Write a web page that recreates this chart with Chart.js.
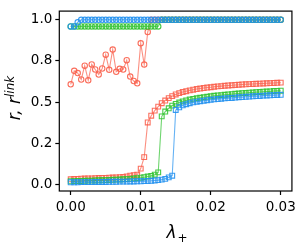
<!DOCTYPE html>
<html>
<head>
<meta charset="utf-8">
<script src="https://cdn.jsdelivr.net/npm/chart.js@4/dist/chart.umd.min.js"></script>
<style>
html,body{margin:0;padding:0;background:#fff;}
#wrap{width:300px;height:245px;}
</style>
</head>
<body>
<div id="wrap"><canvas id="c" width="300" height="245"></canvas></div>
<script>
const lambdaPlus = [0,0.0005,0.001,0.0015,0.002,0.0025,0.003,0.0035,0.004,0.0045,
  0.005,0.0055,0.006,0.0065,0.007,0.0075,0.008,0.0085,0.009,0.0095,
  0.01,0.0105,0.011,0.0115,0.012,0.0125,0.013,0.0135,0.014,0.0145,
  0.015,0.0155,0.016,0.0165,0.017,0.0175,0.018,0.0185,0.019,0.0195,
  0.02,0.0205,0.021,0.0215,0.022,0.0225,0.023,0.0235,0.024,0.0245,
  0.025,0.0255,0.026,0.0265,0.027,0.0275,0.028,0.0285,0.029,0.0295,0.03];

const rRed = [0.608,0.690,0.676,0.637,0.721,0.632,0.729,0.698,0.667,0.704,
  0.788,0.696,0.819,0.684,0.702,0.698,0.754,0.655,0.628,0.614,
  0.857,0.728,0.926,1.0,1.0,1.0,1.0,1.0,1.0,1.0,
  1.0,1.0,1.0,1.0,1.0,1.0,1.0,1.0,1.0,1.0,
  1.0,1.0,1.0,1.0,1.0,1.0,1.0,1.0,1.0,1.0,
  1.0,1.0,1.0,1.0,1.0,1.0,1.0,1.0,1.0,1.0,1.0];
const rGreen = [0.96,0.96,0.96,0.96,0.96,0.96,0.96,0.96,0.96,0.96,
  0.96,0.96,0.96,0.96,0.96,0.96,0.96,0.96,0.96,0.96,
  0.96,0.96,0.96,0.96,0.96,0.96,1.0,1.0,1.0,1.0,
  1.0,1.0,1.0,1.0,1.0,1.0,1.0,1.0,1.0,1.0,
  1.0,1.0,1.0,1.0,1.0,1.0,1.0,1.0,1.0,1.0,
  1.0,1.0,1.0,1.0,1.0,1.0,1.0,1.0,1.0,1.0,1.0];
const rBlue = [0.96,0.96,0.985,1.0,1.0,1.0,1.0,1.0,1.0,1.0,
  1.0,1.0,1.0,1.0,1.0,1.0,1.0,1.0,1.0,1.0,
  1.0,1.0,1.0,1.0,1.0,1.0,1.0,1.0,1.0,1.0,
  1.0,1.0,1.0,1.0,1.0,1.0,1.0,1.0,1.0,1.0,
  1.0,1.0,1.0,1.0,1.0,1.0,1.0,1.0,1.0,1.0,
  1.0,1.0,1.0,1.0,1.0,1.0,1.0,1.0,1.0,1.0,1.0];

const linkRed = [0.030,0.032,0.033,0.034,0.035,0.036,0.036,0.037,0.038,0.039,
  0.039,0.040,0.041,0.042,0.043,0.044,0.048,0.052,0.055,0.058,
  0.095,0.165,0.376,0.417,0.448,0.472,0.493,0.509,0.524,0.536,
  0.546,0.554,0.561,0.566,0.571,0.575,0.579,0.582,0.585,0.588,
  0.590,0.593,0.595,0.597,0.599,0.601,0.602,0.604,0.605,0.607,
  0.608,0.609,0.610,0.611,0.612,0.613,0.614,0.615,0.616,0.617,0.618];
const linkGreen = [0.018,0.019,0.020,0.020,0.021,0.022,0.022,0.023,0.024,0.024,
  0.025,0.026,0.027,0.028,0.029,0.030,0.031,0.033,0.035,0.037,
  0.040,0.043,0.047,0.051,0.058,0.072,0.413,0.442,0.462,0.478,
  0.489,0.497,0.504,0.510,0.515,0.519,0.523,0.526,0.529,0.532,
  0.535,0.538,0.540,0.542,0.544,0.546,0.548,0.550,0.552,0.554,
  0.555,0.557,0.558,0.560,0.561,0.563,0.564,0.565,0.567,0.568,0.569];
const linkBlue = [0.012,0.012,0.012,0.013,0.013,0.013,0.013,0.014,0.014,0.014,
  0.014,0.015,0.015,0.015,0.016,0.016,0.016,0.017,0.017,0.018,
  0.018,0.019,0.020,0.021,0.023,0.025,0.028,0.033,0.042,0.052,
  0.452,0.468,0.480,0.487,0.493,0.498,0.502,0.505,0.508,0.511,
  0.514,0.516,0.518,0.520,0.522,0.524,0.525,0.527,0.529,0.530,
  0.532,0.533,0.535,0.536,0.537,0.539,0.540,0.541,0.542,0.543,0.544];

const xTicks = [0, 0.01, 0.02, 0.03];
const xTickLabels = ['0.00', '0.01', '0.02', '0.03'];
const yTicks = [0, 0.25, 0.5, 0.75, 1.0];
const yTickLabels = ['0.0', '0.2', '0.5', '0.8', '1.0'];

const xTitle = ['λ', '+'];
const yTitle = ['r, r', 'link'];

function pts(ys){ return lambdaPlus.map((x,i)=>({x:x, y:ys[i]})); }

const RED = [250, 95, 75], GREEN = [50, 195, 50], BLUE = [35, 145, 240];
function rgba(c,a){ return 'rgba('+c[0]+','+c[1]+','+c[2]+','+a+')'; }

function ds(ys, c, style, radius, order){
  return {
    data: pts(ys),
    borderColor: rgba(c,0.7),
    borderWidth: 1.1,
    pointStyle: style,
    pointRadius: radius,
    pointBorderWidth: 1.1,
    pointBorderColor: rgba(c,0.9),
    pointBackgroundColor: 'rgba(255,255,255,0)',
    tension: 0,
    order: order
  };
}

const FONT = "'DejaVu Sans', sans-serif";

const decor = {
  id: 'decor',
  afterDraw(chart){
    const ctx = chart.ctx, a = chart.chartArea;
    ctx.save();
    ctx.strokeStyle = '#000';
    ctx.lineWidth = 1.2;
    ctx.strokeRect(a.left, a.top, a.right - a.left, a.bottom - a.top);
    ctx.fillStyle = '#000';
    ctx.textBaseline = 'alphabetic';
    ctx.textAlign = 'left';
    // x title
    ctx.font = 'italic 17px ' + FONT;
    const w1 = ctx.measureText(xTitle[0]).width;
    ctx.font = '12px ' + FONT;
    const w2 = ctx.measureText(xTitle[1]).width;
    let sx = 177 - (w1 + w2 + 1) / 2;
    ctx.font = 'italic 17px ' + FONT;
    ctx.fillText(xTitle[0], sx, 238);
    ctx.font = '12px ' + FONT;
    ctx.fillText(xTitle[1], sx + w1 + 1, 242);
    // y title
    ctx.translate(20, 98);
    ctx.rotate(-Math.PI / 2);
    ctx.font = 'italic 17px ' + FONT;
    const v1 = ctx.measureText(yTitle[0]).width;
    ctx.font = 'italic 12px ' + FONT;
    const v2 = ctx.measureText(yTitle[1]).width;
    const s = -(v1 + v2) / 2;
    ctx.font = 'italic 17px ' + FONT;
    ctx.fillText(yTitle[0], s, 0);
    ctx.font = 'italic 12px ' + FONT;
    ctx.fillText(yTitle[1], s + v1, -6);
    ctx.restore();
  }
};

new Chart(document.getElementById('c'), {
  type: 'line',
  data: {
    datasets: [
      ds(rBlue, BLUE, 'circle', 2.7, 1),
      ds(linkBlue, BLUE, 'rect', 3.4, 1),
      ds(rGreen, GREEN, 'circle', 2.7, 2),
      ds(linkGreen, GREEN, 'rect', 3.4, 2),
      ds(rRed, RED, 'circle', 2.7, 3),
      ds(linkRed, RED, 'rect', 3.4, 3)
    ]
  },
  options: {
    responsive: false,
    animation: false,
    devicePixelRatio: 1,
    layout: { padding: { top: 4, right: 4, left: 0, bottom: 0 } },
    plugins: { legend: { display: false }, tooltip: { enabled: false } },
    scales: {
      x: {
        type: 'linear',
        min: -0.00163, max: 0.0316,
        afterBuildTicks: s => { s.ticks = xTicks.map(v => ({ value: v })); },
        afterFit: s => { s.height = 54; },
        ticks: { callback: (v, i) => xTickLabels[i], color: '#000', font: { family: FONT, size: 13.5 }, padding: 4, maxRotation: 0, autoSkip: false },
        grid: { drawOnChartArea: false, drawTicks: true, tickLength: 4, tickWidth: 1.2, tickColor: '#000' },
        border: { display: false }
      },
      y: {
        type: 'linear',
        min: -0.041, max: 1.053,
        afterBuildTicks: s => { s.ticks = yTicks.map(v => ({ value: v })); },
        afterFit: s => { s.width = 59.3; },
        ticks: { callback: (v, i) => yTickLabels[i], color: '#000', font: { family: FONT, size: 13.5 }, padding: 3, autoSkip: false },
        grid: { drawOnChartArea: false, drawTicks: true, tickLength: 4, tickWidth: 1.2, tickColor: '#000' },
        border: { display: false }
      }
    }
  },
  plugins: [decor]
});
</script>
</body>
</html>
